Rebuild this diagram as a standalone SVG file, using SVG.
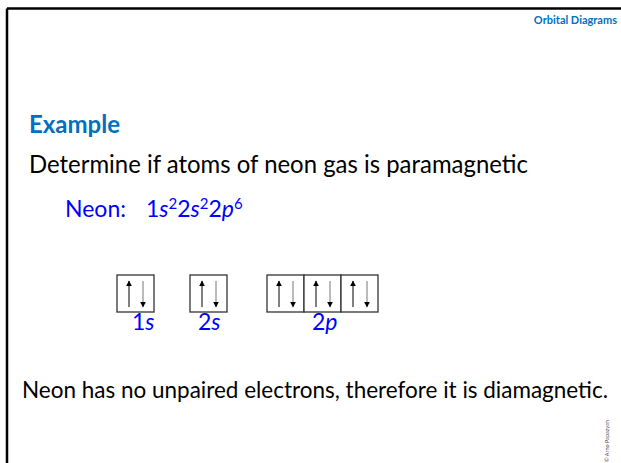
<svg xmlns="http://www.w3.org/2000/svg" width="621" height="463" viewBox="0 0 621 463">
<style>
.body{font-family:Lato,"Noto Sans","Liberation Sans",sans-serif;}
.blk{fill:#000;}
.hd{fill:#0070C0;font-weight:bold;}
.bl{fill:#0000FF;}
.box{fill:#fff;stroke:#333;stroke-width:1.3;}
.up{stroke:#000;stroke-width:1;}
.dn{stroke:#777;stroke-width:1;}
.it{font-style:italic;}
</style>
<defs>
<marker id="ah" viewBox="0 0 10 10" refX="9" refY="5" markerWidth="6" markerHeight="6" markerUnits="userSpaceOnUse" orient="auto">
<path d="M0,0 L10,5 L0,10 z" fill="#000"/>
</marker>
</defs>
<rect width="621" height="463" fill="#fff"/>
<g id="frame" stroke="#000" stroke-width="2.5" fill="none">
<line x1="7" y1="8.5" x2="621" y2="8.5"/>
<line x1="7" y1="8.5" x2="7" y2="463"/>
</g>
<g id="header" class="body">
<text x="617" y="24" font-size="11" text-anchor="end" class="hd">Orbital Diagrams</text>
</g>
<g id="example" class="body">
<text x="29" y="133" font-size="24" class="hd">Example</text>
<text x="29" y="173" font-size="25" class="blk" textLength="499" lengthAdjust="spacingAndGlyphs">Determine if atoms of neon gas is paramagnetic</text>
</g>
<g id="config" class="body bl" font-size="23">
<text x="65" y="217">Neon:</text>
<text x="146" y="217">1<tspan class="it">s</tspan><tspan font-size="15" dy="-8">2</tspan><tspan dy="8">2</tspan><tspan class="it">s</tspan><tspan font-size="15" dy="-8">2</tspan><tspan dy="8">2</tspan><tspan class="it">p</tspan><tspan font-size="15" dy="-8">6</tspan></text>
</g>
<g id="orbital-1s">
<rect class="box" x="117" y="275" width="37" height="37"/>
<line class="up" x1="129" y1="307" x2="129" y2="281" marker-end="url(#ah)"/>
<line class="dn" x1="143" y1="281" x2="143" y2="307" marker-end="url(#ah)"/>
<text class="body bl" x="132" y="330" font-size="23">1<tspan class="it">s</tspan></text>
</g>
<g id="orbital-2s">
<rect class="box" x="190" y="275" width="37" height="37"/>
<line class="up" x1="202" y1="307" x2="202" y2="281" marker-end="url(#ah)"/>
<line class="dn" x1="216" y1="281" x2="216" y2="307" marker-end="url(#ah)"/>
<text class="body bl" x="198" y="330" font-size="23">2<tspan class="it">s</tspan></text>
</g>
<g id="orbital-2p">
<rect class="box" x="267" y="275" width="37" height="37"/>
<rect class="box" x="304" y="275" width="37" height="37"/>
<rect class="box" x="341" y="275" width="37" height="37"/>
<line class="up" x1="279" y1="307" x2="279" y2="281" marker-end="url(#ah)"/>
<line class="dn" x1="293" y1="281" x2="293" y2="307" marker-end="url(#ah)"/>
<line class="up" x1="316" y1="307" x2="316" y2="281" marker-end="url(#ah)"/>
<line class="dn" x1="330" y1="281" x2="330" y2="307" marker-end="url(#ah)"/>
<line class="up" x1="353" y1="307" x2="353" y2="281" marker-end="url(#ah)"/>
<line class="dn" x1="367" y1="281" x2="367" y2="307" marker-end="url(#ah)"/>
<text class="body bl" x="312" y="330" font-size="23">2<tspan class="it">p</tspan></text>
</g>
<g id="conclusion" class="body">
<text x="22" y="398" font-size="22.5" class="blk" textLength="586" lengthAdjust="spacingAndGlyphs">Neon has no unpaired electrons, therefore it is diamagnetic.</text>
</g>
<g id="copyright" class="body">
<text transform="translate(609,462) rotate(-90)" font-size="5.5" fill="#444">© Arno Papazyan</text>
</g>
</svg>
